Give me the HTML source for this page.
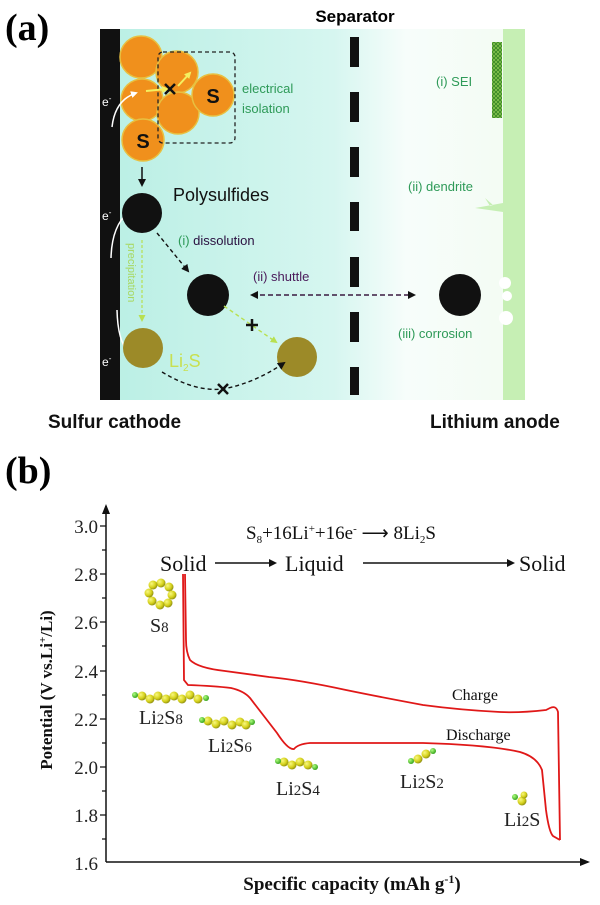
<!DOCTYPE html>
<html><head><meta charset="utf-8"><style>
html,body{margin:0;padding:0;background:#fff;}
svg{display:block;}
</style></head><body>
<svg width="600" height="905" viewBox="0 0 600 905" xmlns="http://www.w3.org/2000/svg">
<defs>
<linearGradient id="bg" x1="0" x2="1" y1="0" y2="0">
<stop offset="0" stop-color="#b9efe4"/>
<stop offset="0.55" stop-color="#d6f6f0"/>
<stop offset="0.72" stop-color="#f7fdfb"/>
<stop offset="1" stop-color="#f3fcf2"/>
</linearGradient>
<radialGradient id="ball" cx="0.35" cy="0.35" r="0.7">
<stop offset="0" stop-color="#f8f880"/>
<stop offset="0.6" stop-color="#d6d21c"/>
<stop offset="1" stop-color="#8a8a10"/>
</radialGradient>
<radialGradient id="gball" cx="0.35" cy="0.35" r="0.7">
<stop offset="0" stop-color="#b0ff80"/>
<stop offset="1" stop-color="#30a018"/>
</radialGradient>
<pattern id="hatch" width="4" height="4" patternUnits="userSpaceOnUse">
<rect width="4" height="4" fill="#8cc850"/>
<path d="M0 0L4 4M4 0L0 4" stroke="#3c8a28" stroke-width="1"/>
</pattern>
<marker id="ak" markerWidth="8" markerHeight="8" refX="6" refY="4" orient="auto" markerUnits="userSpaceOnUse"><path d="M0 0L8 4L0 8z" fill="#111"/></marker>
<marker id="akS" markerWidth="8" markerHeight="8" refX="2" refY="4" orient="auto" markerUnits="userSpaceOnUse"><path d="M8 0L0 4L8 8z" fill="#111"/></marker>
<marker id="aw" markerWidth="7" markerHeight="7" refX="5" refY="3.5" orient="auto" markerUnits="userSpaceOnUse"><path d="M0 0L7 3.5L0 7z" fill="#fff"/></marker>
<marker id="ay" markerWidth="7" markerHeight="7" refX="5" refY="3.5" orient="auto" markerUnits="userSpaceOnUse"><path d="M0 0L7 3.5L0 7z" fill="#f4f060"/></marker>
<marker id="ag" markerWidth="7" markerHeight="7" refX="5" refY="3.5" orient="auto" markerUnits="userSpaceOnUse"><path d="M0 0L7 3.5L0 7z" fill="#b8e050"/></marker>
<marker id="ab" markerWidth="10" markerHeight="8" refX="8" refY="4" orient="auto" markerUnits="userSpaceOnUse"><path d="M0 0L10 4L0 8z" fill="#111"/></marker>
</defs>

<!-- Panel (a) -->
<text x="5" y="40" font-family="Liberation Serif,serif" font-weight="bold" font-size="38">(a)</text>
<text x="355" y="22" text-anchor="middle" font-family="Liberation Sans,sans-serif" font-weight="bold" font-size="17">Separator</text>
<rect x="100" y="29" width="425" height="371" fill="url(#bg)"/>
<rect x="100" y="29" width="20" height="371" fill="#111"/>
<rect x="503" y="29" width="22" height="371" fill="#c6efb4"/>
<g fill="#111">
<rect x="350" y="37" width="9" height="30"/><rect x="350" y="92" width="9" height="30"/>
<rect x="350" y="147" width="9" height="30"/><rect x="350" y="202" width="9" height="29"/>
<rect x="350" y="257" width="9" height="30"/><rect x="350" y="312" width="9" height="30"/>
<rect x="350" y="367" width="9" height="28"/>
</g>
<rect x="492" y="42" width="10" height="76" fill="url(#hatch)"/>
<path d="M503 203 L475 208 L503 212 Z M490 206 L485 198 L493 205 Z" fill="#c6efb4"/>
<g fill="#fff"><circle cx="505" cy="283" r="6"/><circle cx="507" cy="296" r="5"/><circle cx="506" cy="318" r="7"/></g>
<g fill="#f0901c" stroke="#e8c040" stroke-width="1.5">
<circle cx="141" cy="57" r="21"/><circle cx="177" cy="72" r="21"/>
<circle cx="142" cy="100" r="21"/><circle cx="178" cy="113" r="21"/>
<circle cx="213" cy="95" r="21"/><circle cx="143" cy="140" r="21"/>
</g>
<text x="213" y="103" text-anchor="middle" font-family="Liberation Sans,sans-serif" font-weight="bold" font-size="20" fill="#111">S</text>
<text x="143" y="148" text-anchor="middle" font-family="Liberation Sans,sans-serif" font-weight="bold" font-size="20" fill="#111">S</text>
<rect x="158" y="52" width="77" height="91" rx="5" fill="none" stroke="#222" stroke-width="1.3" stroke-dasharray="4,3"/>
<text x="242" y="93" font-family="Liberation Sans,sans-serif" font-size="13" fill="#2e9a58">electrical</text>
<text x="242" y="113" font-family="Liberation Sans,sans-serif" font-size="13" fill="#2e9a58">isolation</text>
<path d="M146 91 L167 89" stroke="#f4f060" stroke-width="2" fill="none" marker-end="url(#ay)"/>
<path d="M178 86 L190 73" stroke="#f4f060" stroke-width="2" fill="none" marker-end="url(#ay)"/>
<path d="M165 84 L175 94 M175 84 L165 94" stroke="#111" stroke-width="2.5"/>
<g font-family="Liberation Sans,sans-serif" font-size="12" fill="#fff">
<text x="102" y="106">e<tspan font-size="8" dy="-5">-</tspan></text>
<text x="102" y="220">e<tspan font-size="8" dy="-5">-</tspan></text>
<text x="102" y="366">e<tspan font-size="8" dy="-5">-</tspan></text>
</g>
<path d="M112 127 Q115 100 136 93" stroke="#fff" stroke-width="1.5" fill="none" marker-end="url(#aw)"/>
<path d="M111 258 Q112 220 135 208" stroke="#fff" stroke-width="1.5" fill="none" marker-end="url(#aw)"/>
<path d="M117 310 Q118 350 135 356" stroke="#fff" stroke-width="1.5" fill="none" marker-end="url(#aw)"/>
<path d="M142 167 L142 185" stroke="#111" stroke-width="1.5" marker-end="url(#ak)"/>
<circle cx="142" cy="213" r="20" fill="#111"/>
<text x="173" y="201" font-family="Liberation Sans,sans-serif" font-size="18" fill="#111">Polysulfides</text>
<text x="178" y="245" font-family="Liberation Sans,sans-serif" font-size="13" fill="#2a1040"><tspan fill="#2e9a58">(i)</tspan> dissolution</text>
<path d="M157 233 L188 271" stroke="#111" stroke-width="1.4" stroke-dasharray="4,3" fill="none" marker-end="url(#ak)"/>
<circle cx="208" cy="295" r="21" fill="#111"/>
<text x="253" y="281" font-family="Liberation Sans,sans-serif" font-size="13" fill="#4a1a5a">(ii) shuttle</text>
<path d="M252 295 L414 295" stroke="#3a1a40" stroke-width="1.4" stroke-dasharray="5,3" fill="none" marker-start="url(#akS)" marker-end="url(#ak)"/>
<circle cx="460" cy="295" r="21" fill="#111"/>
<text x="398" y="338" font-family="Liberation Sans,sans-serif" font-size="13" fill="#2e9a58">(iii) corrosion</text>
<text x="436" y="86" font-family="Liberation Sans,sans-serif" font-size="13" fill="#2e9a58">(i) SEI</text>
<text x="408" y="191" font-family="Liberation Sans,sans-serif" font-size="13" fill="#2e9a58">(ii) dendrite</text>
<text transform="translate(128,243) rotate(90)" font-family="Liberation Sans,sans-serif" font-size="11" fill="#a8d860">precipitation</text>
<path d="M142 240 L142 320" stroke="#b8e050" stroke-width="1.2" stroke-dasharray="3,2" fill="none" marker-end="url(#ag)"/>
<circle cx="143" cy="348" r="20" fill="#9c8a28"/>
<circle cx="297" cy="357" r="20" fill="#9c8a28"/>
<text x="169" y="367" font-family="Liberation Sans,sans-serif" font-size="18" fill="#c8e050">Li<tspan font-size="10" dy="4">2</tspan><tspan dy="-4">S</tspan></text>
<path d="M224 306 L276 342" stroke="#b8e050" stroke-width="1.4" stroke-dasharray="4,3" fill="none" marker-end="url(#ag)"/>
<path d="M246 325 L258 325 M252 319 L252 331" stroke="#111" stroke-width="2.5"/>
<path d="M162 372 Q195 392 223 389 Q255 383 284 363" stroke="#111" stroke-width="1.4" stroke-dasharray="4,3" fill="none" marker-end="url(#ak)"/>
<path d="M218 384 L228 394 M228 384 L218 394" stroke="#111" stroke-width="2.5"/>
<text x="48" y="428" font-family="Liberation Sans,sans-serif" font-weight="bold" font-size="19" fill="#111">Sulfur cathode</text>
<text x="430" y="428" font-family="Liberation Sans,sans-serif" font-weight="bold" font-size="19" fill="#111">Lithium anode</text>

<!-- Panel (b) -->
<text x="5" y="483" font-family="Liberation Serif,serif" font-weight="bold" font-size="38">(b)</text>
<path d="M106 862 L106 506" stroke="#111" stroke-width="1.5" fill="none" marker-end="url(#ab)"/>
<path d="M106 862 L588 862" stroke="#111" stroke-width="1.5" fill="none" marker-end="url(#ab)"/>
<g stroke="#111" stroke-width="1.3">
<path d="M100 526h6M100 574h6M100 622h6M100 671h6M100 719h6M100 767h6M100 815h6"/>
<path d="M102 550h4M102 598h4M102 646h4M102 695h4M102 743h4M102 791h4M102 839h4"/>
</g>
<g font-family="Liberation Serif,serif" font-size="19" fill="#222" text-anchor="end">
<text x="98" y="533">3.0</text><text x="98" y="581">2.8</text><text x="98" y="629">2.6</text>
<text x="98" y="678">2.4</text><text x="98" y="726">2.2</text><text x="98" y="774">2.0</text>
<text x="98" y="822">1.8</text><text x="98" y="870">1.6</text>
</g>
<text transform="translate(52,690) rotate(-90)" text-anchor="middle" font-family="Liberation Serif,serif" font-weight="bold" font-size="17" fill="#111">Potential (V vs.Li<tspan font-size="11" dy="-6">+</tspan><tspan dy="6">/Li)</tspan></text>
<text x="352" y="890" text-anchor="middle" font-family="Liberation Serif,serif" font-weight="bold" font-size="19" fill="#111">Specific capacity (mAh g<tspan font-size="12" dy="-7">-1</tspan><tspan dy="7">)</tspan></text>
<text x="246" y="539" font-family="Liberation Serif,serif" font-size="19" fill="#111">S<tspan font-size="11" dy="4">8</tspan><tspan dy="-4">+16Li</tspan><tspan font-size="11" dy="-7">+</tspan><tspan dy="7">+16e</tspan><tspan font-size="11" dy="-7">-</tspan><tspan dy="7"> ⟶ 8Li</tspan><tspan font-size="11" dy="4">2</tspan><tspan dy="-4">S</tspan></text>
<g font-family="Liberation Serif,serif" font-size="22" fill="#111">
<text x="160" y="571">Solid</text><text x="285" y="571">Liquid</text><text x="519" y="571">Solid</text>
</g>
<path d="M215 563 L275 563" stroke="#111" stroke-width="1.5" marker-end="url(#ak)"/>
<path d="M363 563 L513 563" stroke="#111" stroke-width="1.5" marker-end="url(#ak)"/>
<path d="M183 574 L184 680 L188 685 Q215 686 231 688 Q244 691 250 698 L277 733 Q288 750 294 749 Q298 744 310 743 L423 743 Q490 745 520 752 Q537 757 542 770 L546 810 Q549 832 553 836 L560 840" stroke="#e01818" stroke-width="1.8" fill="none"/>
<path d="M560 840 L558 712 Q556 705 550 708 L546 710 Q520 713 500 712 Q460 710 423 705 Q380 697 346 690 Q300 680 269 677 Q240 673 225 671 Q198 668 190 660 Q186 652 186 640 L185 574" stroke="#e01818" stroke-width="1.8" fill="none"/>
<text x="452" y="700" font-family="Liberation Serif,serif" font-size="16" fill="#111">Charge</text>
<text x="446" y="740" font-family="Liberation Serif,serif" font-size="16" fill="#111">Discharge</text>
<g fill="url(#ball)">
<circle cx="161" cy="583" r="4.5"/><circle cx="169" cy="587" r="4.5"/><circle cx="172" cy="595" r="4.5"/><circle cx="168" cy="603" r="4.5"/>
<circle cx="160" cy="605" r="4.5"/><circle cx="152" cy="601" r="4.5"/><circle cx="149" cy="593" r="4.5"/><circle cx="153" cy="585" r="4.5"/>
<circle cx="142" cy="696" r="4.5"/><circle cx="150" cy="699" r="4.5"/><circle cx="158" cy="696" r="4.5"/><circle cx="166" cy="699" r="4.5"/>
<circle cx="174" cy="696" r="4.5"/><circle cx="182" cy="699" r="4.5"/><circle cx="190" cy="695" r="4.5"/><circle cx="198" cy="699" r="4.5"/>
<circle cx="208" cy="721" r="4.5"/><circle cx="216" cy="724" r="4.5"/><circle cx="224" cy="721" r="4.5"/><circle cx="232" cy="725" r="4.5"/><circle cx="240" cy="722" r="4.5"/><circle cx="246" cy="725" r="4.5"/>
<circle cx="284" cy="762" r="4.5"/><circle cx="292" cy="765" r="4.5"/><circle cx="300" cy="762" r="4.5"/><circle cx="308" cy="765" r="4.5"/>
<circle cx="418" cy="759" r="4.5"/><circle cx="426" cy="754" r="4.5"/>
<circle cx="522" cy="801" r="4.5"/><circle cx="524" cy="795" r="3.5"/>
</g>
<g fill="url(#gball)">
<circle cx="135" cy="695" r="3"/><circle cx="206" cy="698" r="3"/>
<circle cx="202" cy="720" r="3"/><circle cx="252" cy="722" r="3"/>
<circle cx="278" cy="761" r="3"/><circle cx="315" cy="767" r="3"/>
<circle cx="411" cy="761" r="3"/><circle cx="433" cy="751" r="3"/>
<circle cx="515" cy="797" r="3"/>
</g>
<g font-family="Liberation Serif,serif" font-size="20" fill="#222">
<text x="150" y="632">S<tspan font-size="15">8</tspan></text>
<text x="139" y="724">Li<tspan font-size="15">2</tspan>S<tspan font-size="15">8</tspan></text>
<text x="208" y="752">Li<tspan font-size="15">2</tspan>S<tspan font-size="15">6</tspan></text>
<text x="276" y="795">Li<tspan font-size="15">2</tspan>S<tspan font-size="15">4</tspan></text>
<text x="400" y="788">Li<tspan font-size="15">2</tspan>S<tspan font-size="15">2</tspan></text>
<text x="504" y="826">Li<tspan font-size="15">2</tspan>S</text>
</g>
</svg>
</body></html>
